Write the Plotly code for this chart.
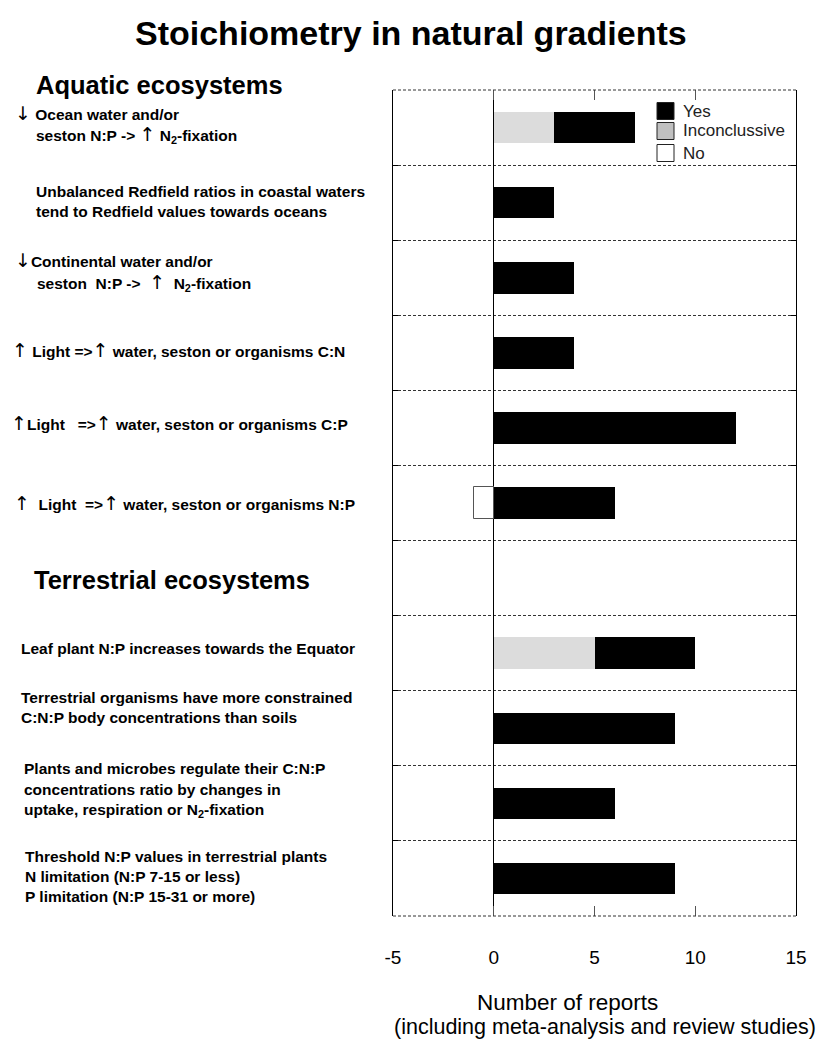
import plotly.graph_objects as go

# ---------------- data ----------------
rows = [1, 2, 3, 4, 5, 6, 7, 8, 9, 10, 11]
yes_vals = [4, 3, 4, 4, 12, 6, None, 5, 9, 6, 9]
inconclusive_vals = [3, None, None, None, None, None, None, 5, None, None, None]
no_vals = [None, None, None, None, None, -1, None, None, None, None, None]
row_edges = [0.5, 1.5, 2.5, 3.5, 4.5, 5.5, 6.5, 7.5, 8.5, 9.5, 10.5, 11.5]
x_ticks = [-5, 0, 5, 10, 15]
x_tick_text = ["-5", "0", "5", "10", "15"]
legend_names = ["Yes", "Inconclussive", "No"]

# ---------------- geometry helpers (text placement only) ----------------
W, H = 828, 1041
L, R, T, B = 393, 796, 90, 916


def px(x):
    return (x - L) / (R - L)


def py(y):
    return 1 - (y - T) / (B - T)


fig = go.Figure()
bar_w = 0.42
fig.add_trace(go.Bar(y=rows, x=inconclusive_vals, orientation="h", width=bar_w,
                     marker=dict(color="#dcdcdc", line=dict(width=0)),
                     name="Inconclusive", showlegend=False))
fig.add_trace(go.Bar(y=rows, x=yes_vals, orientation="h", width=bar_w,
                     marker=dict(color="black", line=dict(width=0)),
                     name="Yes", showlegend=False))
fig.add_trace(go.Bar(y=rows, x=no_vals, orientation="h", width=bar_w,
                     marker=dict(color="white", line=dict(width=1, color="#555")),
                     name="No", showlegend=False))

ann = []
shapes = []

# title
ann.append(dict(text="<b>Stoichiometry in natural gradients</b>", x=px(411), y=py(33),
                xanchor="center", yanchor="middle", font=dict(size=34)))
ann.append(dict(text="<b>Aquatic ecosystems</b>", x=px(34), y=py(85),
                xanchor="left", yanchor="middle", font=dict(size=25.5)))
ann.append(dict(text="<b>Terrestrial ecosystems</b>", x=px(32), y=py(580),
                xanchor="left", yanchor="middle", font=dict(size=25.5)))

NB = "\u00a0"
UP = '<span style="font-family:\'DejaVu Sans\';font-size:19px;font-weight:normal">↑</span>'
DN = '<span style="font-family:\'DejaVu Sans\';font-size:19px;font-weight:normal">↓</span>'
label_lines = [
    (13, 113, DN + NB + "Ocean water and/or"),
    (34, 134, "seston N:P ->" + NB + UP + NB + "N<sub>2</sub>-fixation"),
    (34, 192, "Unbalanced Redfield ratios in coastal waters"),
    (34, 211, "tend to Redfield values towards oceans"),
    (13, 260, DN + "Continental water and/or"),
    (35, 282, "seston" + NB * 2 + "N:P ->" + NB * 2 + UP + NB * 2 + "N<sub>2</sub>-fixation"),
    (10, 350, UP + NB + "Light =>" + UP + NB + "water, seston or organisms C:N"),
    (9, 423, UP + "Light" + NB * 3 + "=>" + UP + NB + "water, seston or organisms C:P"),
    (12, 503, UP + NB * 2 + "Light" + NB * 2 + "=>" + UP + NB + "water, seston or organisms N:P"),
    (19, 648, "Leaf plant N:P increases towards the Equator"),
    (19, 697, "Terrestrial organisms have more constrained"),
    (19, 717, "C:N:P body concentrations than soils"),
    (22, 768, "Plants and microbes regulate their C:N:P"),
    (22, 789, "concentrations ratio by changes in"),
    (22, 810, "uptake, respiration or N<sub>2</sub>-fixation"),
    (23, 856, "Threshold N:P values in terrestrial plants"),
    (23, 876, "N limitation (N:P 7-15 or less)"),
    (23, 896, "P limitation (N:P 15-31 or more)"),
]
for x0, y0, t in label_lines:
    ann.append(dict(text="<b>" + t + "</b>", x=px(x0), y=py(y0), xanchor="left",
                    yanchor="middle", font=dict(size=15.5)))

# axis titles
ann.append(dict(text="Number of reports", x=px(567), y=py(1002), xanchor="center",
                yanchor="middle", font=dict(size=22.5)))
ann.append(dict(text="(including meta-analysis and review studies)", x=px(605), y=py(1027),
                xanchor="center", yanchor="middle", font=dict(size=21.5)))

# legend (manual)
leg_colors = ["black", "#c0c0c0", "white"]
leg_y = [111, 131, 153]
for name, col, yy in zip(legend_names, leg_colors, leg_y):
    shapes.append(dict(type="rect", xref="paper", yref="paper",
                       x0=px(657), x1=px(674), y0=py(yy - 8.5), y1=py(yy + 8.5),
                       fillcolor=col, line=dict(color="#222", width=1)))
    ann.append(dict(text=name, x=px(681), y=py(yy), xanchor="left", yanchor="middle",
                    font=dict(size=17, color="#222")))

# dashed top and bottom frame lines
for yy in (0, 1):
    shapes.append(dict(type="line", xref="paper", yref="paper", x0=0, x1=1, y0=yy, y1=yy,
                       line=dict(color="#333", width=1, dash="3px,2px")))

for a in ann:
    a.setdefault("xref", "paper")
    a.setdefault("yref", "paper")
    a["showarrow"] = False
    a["font"].setdefault("color", "black")
    a["font"]["family"] = "Liberation Sans, Arial, sans-serif"

fig.update_layout(
    width=W, height=H,
    margin=dict(l=L, r=W - R, t=T, b=H - B),
    paper_bgcolor="white", plot_bgcolor="white",
    barmode="relative", bargap=0,
    showlegend=False,
    annotations=ann, shapes=shapes,
    font=dict(family="Liberation Sans, Arial, sans-serif", color="black"),
    xaxis=dict(range=[-5, 15], tickvals=x_ticks, ticktext=x_tick_text, ticks="inside",
               ticklen=10, tickcolor="#555", tickwidth=1, mirror="ticks", showline=False,
               showgrid=False, zeroline=True, zerolinecolor="black", zerolinewidth=1,
               tickfont=dict(size=19, color="black"), ticklabelstandoff=28),
    yaxis=dict(range=[11.5, 0.5], tickvals=row_edges, showticklabels=False,
               ticks="inside", ticklen=5, tickcolor="black", showline=True,
               linecolor="black", linewidth=1, mirror="ticks", showgrid=True,
               griddash="3px,2px", gridcolor="#333", gridwidth=1, zeroline=False),
)

fig.write_html("out.html", config={"displayModeBar": False},
               post_script="document.body.style.margin='0';document.body.style.overflow='hidden';")
